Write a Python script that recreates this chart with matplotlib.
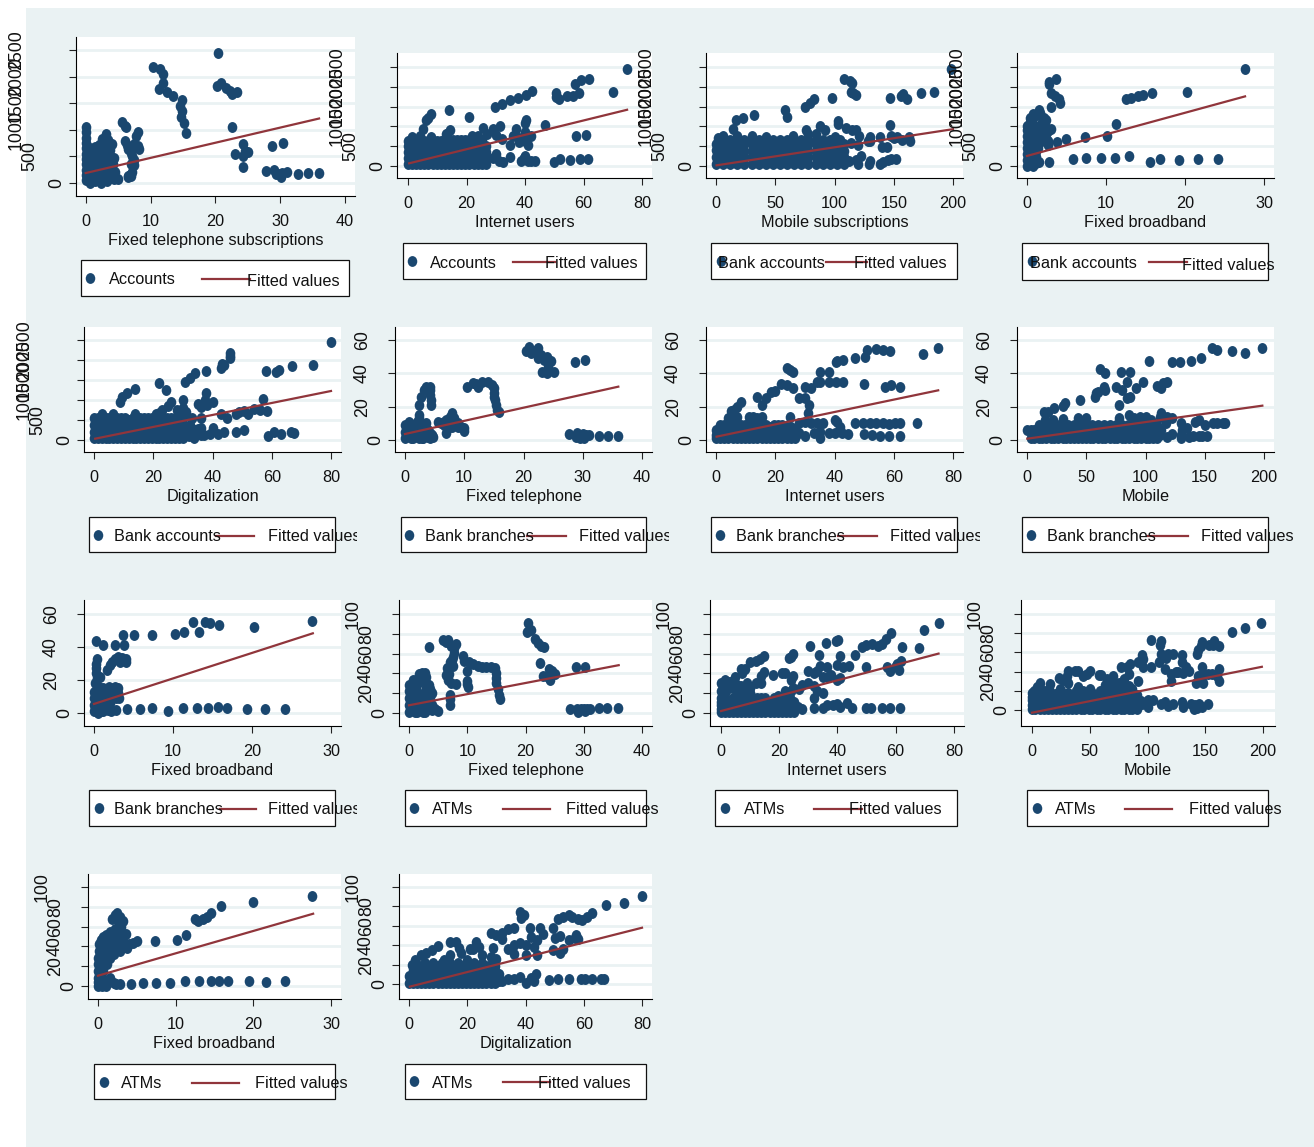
import matplotlib
matplotlib.use('Agg')
import matplotlib.pyplot as plt
from matplotlib.lines import Line2D
from matplotlib.patches import Rectangle
from matplotlib.path import Path
from matplotlib.transforms import Affine2D, Bbox
import numpy as np

W, H = 1314, 1147
NAVY = '#1a476f'
MAROON = '#90353b'
BG = '#eaf2f3'
FONT = 'Liberation Sans'

# points as (x, y)
acc_tel = [(20.4,2437),(10.4,2187),(11.5,2140),(12,2050),(11.9,1875),(11.3,1770),(12.5,1706),(13.5,1644),(14.8,1562),(14.6,1456),(14.9,1344),(14.7,1250),(15.2,1125),(15.5,937),
 (20.3,1831),(20.9,1875),(21.7,1780),(22.3,1720),(22.5,1669),(23.4,1706),(22.5,1050),(24.2,731),(24.5,600),(25,575),(23,544),(24.2,500),(24.3,294),(28.8,687),(30.4,744),
 (27.8,219),(29,240),(29.3,170),(30,170),(30.2,110),(30.3,190),(31,200),(32.7,175),(34.3,187),(36,187),
 (5.6,1156),(6,1080),(6.2,1060),(8,950),(7.8,880),(6,781),(6.3,720),(6.6,640),(7,570),(7.2,500),(7.5,430),(8.2,644),(7.5,740),(7.1,680),(8,690),(7,350),(7.5,330),(6.6,125),(6.5,110),(7,130),(7.2,200),(6.9,150),
 (0,1050),(0,950),(0,850),(0,750),(0,650),(0,550),(0,450),(0,350),(0,250),(0,150),(0,50),
 (0.6,0),(0.6,130),(0.6,260),(0.6,390),(0.6,520),(0.6,650),(1.5,30),(1.5,160),(1.5,290),(1.5,420),(1.5,550),(1.5,680),(2.4,0),(2.4,130),(2.4,260),(2.4,390),(2.4,520),(2.4,650),(2.5,830),
 (3.3,30),(3.3,160),(3.3,290),(3.3,420),(3.3,550),(3.3,680),(3.2,920),(3.5,800),(4.1,730),(4.3,470),(4.2,350),(4.5,200),(5,80),(4.3,80),
 (1,70),(1,200),(1,330),(1,460),(1,590),(2,70),(2,200),(2,330),(2,460),(2,590),(2,720),(2.9,100),(2.9,230),(2.9,360),(2.9,490),(2.9,620),(3.8,100),(3.8,230),(3.8,360),(3.8,500),(3.8,620)]
acc_tel_fit = [(0,187),(36,1212)]

acc_net = [(74.8,2450),(61.8,2197),(59.2,2170),(57,2079),(70,1876),(42.5,1901),(40.2,1800),(37.5,1715),(34.8,1673),(32,1572),(29.8,1479),(50.5,1850),(50.5,1730),(51.5,1690),(54.2,1775),(56.5,1770),(58.5,1842),
 (14,1420),(20.7,1234),(8,1301),(7,1200),(6,1166),(5,938),(14.5,912),(13.5,800),(57.5,760),(61,777),(50,93),(52,177),(55.5,143),(58.7,169),(61.7,170),(46.7,1039),(40.5,1166),(40,1098),(36.8,946),(31.5,1014),(29,930),(25.5,955),
 (27,800),(30,780),(32,680),(35,540),(36,760),(38,700),(40,640),(41,520),(42,760),(40,870),(38,600),(30,304),(29,210),(31,120),(32.5,100),(35,220),(38.5,120),(40,250),(41,120),(42,120),(43.5,130),(39.5,190),
 (0,50),(0,350),(0,620),(1.4,200),(1.4,500),(1.4,720),(2.8,50),(2.8,350),(2.8,620),(4.2,200),(4.2,500),(4.2,760),(5.6,50),(5.6,350),(5.6,620),(7,200),(7,500),(8,720),(8.4,50),(8.4,350),(8.4,620),(9.8,200),(9.8,500),(11.2,50),(11.2,350),(11.2,640),
 (12.6,200),(12.6,500),(13,800),(14,50),(14,350),(14,650),(15.4,200),(15.4,500),(16.8,50),(16.8,350),(16.8,650),(18.2,200),(18.2,500),(19.6,50),(19.6,350),(19.6,650),(21,200),(21,500),(22.4,50),(22.4,350),(22.4,650),(22,750),(24,760),(23.8,200),(23.8,500),(25.2,50),(25.2,350),(25.2,650),(26.6,200),(26.6,500),
 (0,200),(0,500),(2.8,200),(2.8,500),(5.6,200),(5.6,500),(8.4,200),(8.4,500),(11.2,200),(11.2,500),(14,200),(14,500),(16.8,200),(16.8,500),(19.6,200),(19.6,500),(22.4,200),(22.4,500),(25.2,200),(25.2,500),
 (1.4,50),(1.4,350),(1.4,620),(4.2,50),(4.2,350),(4.2,620),(7,50),(7,350),(7,620),(9.8,50),(9.8,350),(9.8,620),(12.6,50),(12.6,350),(12.6,650),(15.4,50),(15.4,350),(15.4,650),(18.2,50),(18.2,350),(18.2,650),(21,50),(21,350),(21,650),(23.8,50),(23.8,350),(23.8,650),(26.6,50),(26.6,350)]
acc_net_fit = [(0.4,68),(74.9,1420)]

acc_mob = [(198,2450),(108,2197),(113,2150),(115,2100),(114,1860),(118,1783),(116,1850),(98,1715),(83,1680),(79,1590),(75,1480),(147,1715),(156,1775),(158,1810),(161,1690),(173,1842),(184,1860),(58,1420),(60,1240),(32,1290),(23,1200),(17,1150),(14,930),
 (88,1020),(92,920),(103,1130),(103,1060),(147,1040),(110,960),(115,920),(118,900),(121,760),(130,720),(138,740),(148,760),(153,720),(157,660),(163,720),(164,620),(150,700),(128,640),(140,480),(144,480),(114,580),(120,520),(130,640),(105,650),
 (130,120),(129,50),(138,50),(141,90),(145,150),(148,170),(152,170),(122,240),(120,50),(118,160),(112,120),
 (0,400),(2,700),(0,50),(6,220),(6,560),(6,760),(12,50),(12,390),(12,650),(18,220),(18,560),(18,760),(24,50),(24,390),(24,650),(30,220),(30,560),(30,760),(36,50),(36,390),(36,650),(42,220),(42,560),(42,740),(48,50),(48,390),(48,650),(54,220),(54,560),(60,50),(60,390),(60,650),
 (66,220),(66,560),(65,760),(72,50),(72,390),(72,650),(76,900),(78,220),(78,560),(78,800),(84,50),(84,390),(84,650),(84,820),(90,220),(90,560),(96,50),(96,390),(96,650),(102,220),(102,560),(108,50),(108,390),(100,730),
 (0,220),(0,560),(12,220),(12,560),(24,220),(24,560),(36,220),(36,560),(48,220),(48,560),(60,220),(60,560),(72,220),(72,560),(84,220),(84,560),(96,220),(96,560),(108,220),(108,560),
 (6,50),(6,390),(6,650),(18,50),(18,390),(18,650),(30,50),(30,390),(30,650),(42,50),(42,390),(42,650),(54,50),(54,390),(54,650),(66,50),(66,390),(66,650),(78,50),(78,390),(78,650),(90,50),(90,390),(90,650),(102,50),(102,390),(102,650)]
acc_mob_fit = [(0.5,17),(200,930)]

acc_bb = [(27.6,2450),(20.2,1860),(15.8,1840),(14.7,1790),(14,1770),(13.2,1720),(12.5,1700),(11.3,1050),(10.1,760),(7.4,720),
 (24.2,170),(21.7,170),(19.3,150),(16.8,170),(15.6,90),(12.9,240),(11.2,210),(9.4,200),(7.5,200),(5.8,170),(2.8,110),(1.5,100),(1,90),
 (4.9,680),(3.8,600),(2.7,620),(2.6,520),(3,930),(2.7,880),(2.3,1000),(2.2,1100),(3.1,1479),(1.5,1420),(4.2,1590),(4,1700),(3.5,1780),(3,1850),(2.8,2130),(3.7,2200),(2.8,2060),
 (0,0),(0,150),(0,300),(0,450),(0,600),(0,750),(0,900),(0,1000),(0.4,70),(0.4,220),(0.4,370),(0.4,520),(0.4,670),(0.4,820),(0.4,970),(0.4,1120),(0.4,1200),(0.8,0),(0.8,150),(0.8,300),(0.8,450),(0.8,600),(0.8,750),(0.8,900),(0.8,1050),(0.8,1250),(0.7,1320),
 (1.2,70),(1.2,220),(1.2,370),(1.2,520),(1.2,670),(1.2,820),(1.2,950),(1.6,600),(1.6,750),(1.6,900),(2,800),(2.4,700),(2.1,1220),(2.4,1150),(1.6,1350),
 (0.2,300),(0.2,600),(0.2,900),(0.6,150),(0.6,450),(0.6,750),(0.6,1050),(1,300),(1,600),(1,900),(1.4,450),(1.4,750),(1.8,1050),(1.3,1280),(2.1,1000),(2.5,900)]
acc_bb_fit = [(0,254),(27.6,1758)]

acc_dig = [(80,2450),(74,1870),(67,1850),(62.5,1760),(61.5,1700),(58,1720),(46,2166),(46,2060),(45.8,2100),(44,1880),(43,1800),(43.2,1900),(37.8,1720),(34,1670),(32.5,1550),(30.8,1450),(22,1420),(24.2,1240),(14,1270),(11,1180),(9.5,1070),(8.8,950),
 (37.8,1170),(37.5,1010),(35,900),(36,820),(40,950),(38,880),(30,1000),(26,940),(28,750),(30,800),(31,700),(25,840),(23,760),(22,680),(43,640),(45,550),(48,640),(49,700),(50.5,720),(52,650),(54,780),(56,750),(57,1020),(58.5,720),
 (58.7,110),(60.7,190),(63.2,140),(66.5,190),(67.5,170),(48,200),(50.5,260),(44,190),(42,160),(39,160),(36,120),(33,150),(30,120),(28,120),(33,550),(36,550),
 (0,50),(0,380),(1.3,200),(1.3,540),(2.6,50),(2.6,380),(2.6,650),(3.9,200),(3.9,540),(5.2,50),(5.2,380),(6.5,200),(6.5,540),(6.5,660),(7.8,50),(7.8,380),(9.1,200),(9.1,540),(10.4,50),(10.4,380),(11.7,200),(11.7,500),(13,50),(13,380),(14.3,200),(14.3,540),(14,650),(15.6,50),(15.6,380),(16.9,200),(16.9,540),(18.2,50),(18.2,380),
 (19.5,200),(19.5,540),(20.8,50),(20.8,380),(20.8,650),(22.1,200),(22.1,540),(23.4,50),(23.4,380),(24.7,200),(24.7,540),(26,50),(26,380),(27.3,200),(27.3,540),(28.6,50),(28.6,380),(29.9,200),(29.9,540),(31.2,280),(32.5,380),(33.8,50),(35,280),(37,130),(40,300),(30,650),
 (0,200),(0,540),(2.6,200),(2.6,540),(5.2,200),(5.2,540),(7.8,200),(7.8,540),(10.4,200),(10.4,540),(13,200),(13,540),(15.6,200),(15.6,540),(18.2,200),(18.2,540),(20.8,200),(20.8,540),(23.4,200),(23.4,540),(26,200),(26,540),(28.6,200),(28.6,540),
 (1.3,50),(1.3,380),(3.9,50),(3.9,380),(6.5,50),(6.5,380),(9.1,50),(9.1,380),(11.7,50),(11.7,380),(14.3,50),(14.3,380),(16.9,50),(16.9,380),(19.5,50),(19.5,380),(22.1,50),(22.1,380),(24.7,50),(24.7,380),(27.3,50),(27.3,380),(29.9,50),(29.9,380),(32,100),(34,250),(36,300)]
acc_dig_fit = [(0.4,33),(80,1225)]

bra_tel = [(20.5,53.5),(20.9,55.5),(21.2,52),(22,53.5),(22.5,55),(23,51),(22.5,49),(23.5,48),(24,50),(24.7,47.5),(24.2,44),(23.2,41),(24,40),(25.2,41),(28.7,47),(30.4,47.8),
 (10.4,32),(11.4,34),(12,33.5),(12.3,31.5),(13,35),(14,35),(14.7,33),(15,31),(15.1,28),(15,26),(15.2,24),(15.3,21),(15.6,18),(15.8,17),
 (27.7,3.4),(28.8,2),(29,4),(29.5,1.5),(30,3.5),(30.2,1.5),(30.5,3),(31,3),(32.7,2.5),(34.3,2.5),(36,2.5),
 (3.2,30),(3.6,32),(4.2,32),(4.3,30),(4.3,27),(4.4,24),(4.4,21),(2.7,26),(2.4,21),(2.3,15),(2.3,13),
 (5.5,11),(6,10),(6.5,11),(7,12),(7.6,14),(8,16),(7,4),(7.3,7),(7.7,9),(8.2,13),(8.5,11),(9,10),(9.5,8),(10,5.5),(10,7),(8,8),(6.5,9),(9,8),
 (0,1),(0,5),(0,9),(0.7,3),(0.7,7),(0.7,11),(1.4,1),(1.4,5),(1.4,9),(2.1,3),(2.1,7),(2.1,11),(2.8,1),(2.8,5),(2.8,9),(3.5,3),(3.5,7),(3.5,10),(4.2,1),(4.2,4),(4.8,2),
 (0.3,3),(0.3,7),(1,1),(1,5),(1,9),(1.7,3),(1.7,7),(2.4,1),(2.4,5),(2.4,9),(3.1,1),(3.1,5),(3.1,9),(3.8,2),(3.8,6),(4.5,3)]
bra_tel_fit = [(0,3.6),(36,32)]

bra_net = [(75,55.2),(70,51.6),(58.7,53.2),(56.5,54),(54,54.5),(51,54),(50.2,49.5),(47,49),(43,48),(40.5,47),(41,47.5),(38,41),(35,41),(24,43),(26,40.5),(25,42),(35,35),(38,35),(40.5,34.5),(43,34.5),(50,33.5),(57,32),(59,33),(62,32),(34,35),
 (30,32),(32,31),(22,33.5),(24,33),(26,31),(20,29.5),(18.5,29),(14,26),(17,25),(15.5,21),(28,25),(30,25),(31.5,21),(31,16),(25,14),(8.3,22.5),(7,20),(6,18),(5,17.5),
 (68,10),(62,10),(60.5,10),(58.5,9.5),(56.5,10.3),(54,10.3),(52,10),(49.5,10.5),(47,10),(44.5,3.5),(42.5,4),(40,4),(38,4),(41,11),(40,12),(42,8),(36,10),(34,10),(62,2.5),(58.5,2.5),(55.5,2.5),(52.5,3),(50,3.5),(35,1.5),(35,5),(33,4),(30,2.5),(32,10),(30,11),(28,10),(28,4),
 (0,1),(0,6),(1.4,3),(1.4,9),(2.8,1),(2.8,6),(4.2,3),(4.2,9),(4,13),(5.6,1),(5.6,6),(7,3),(7,9),(7,14),(8.4,1),(8.4,6),(9.8,3),(9.8,9),(11.2,1),(11.2,6),(12.6,3),(12.6,9),(12.6,14),(14,1),(14,6),(15.4,3),(15.4,9),(15.5,14),(16.8,1),(16.8,6),(18.2,3),(18.2,8),(19.6,1),(19.6,6),(21,3),(21,9),(22.4,1),(22.4,6),(23.8,3),(23.8,8),(25.2,1),(25.2,6),(26.6,3),
 (0,3),(2.8,3),(2.8,9),(5.6,3),(5.6,9),(5.6,13),(8.4,3),(8.4,9),(11.2,3),(11.2,9),(11.2,14),(14,3),(14,9),(14,13),(16.8,3),(16.8,9),(19.6,3),(19.6,9),(22.4,3),(22.4,9),(25.2,3),(25.2,8),
 (1.4,1),(1.4,6),(4.2,1),(4.2,6),(7,1),(7,6),(9.8,1),(9.8,6),(12.6,1),(12.6,6),(15.4,1),(15.4,6),(18.2,1),(18.2,6),(21,1),(21,6),(23.8,1),(23.8,6),(26.6,1),(26.6,6)]
bra_net_fit = [(0.2,2),(75,29.8)]

bra_mob = [(198.6,55),(184,52),(173,53.5),(160,54),(156,55),(147,49),(138,47.5),(129,46.7),(122,46.5),(103,47.5),(62,42.5),(66,40),(79,41),(86.5,41),
 (84,35),(98,35),(118,34.5),(115,34),(110,32.5),(113,31),(92,31),(80,30),(75,32),(65,32),(58,28),(57,26),(60,29),(66,30),(84,25),(87,25.5),(78,21),(45,24),(32,22),(30,20.5),(23,19),(18,17),(14,17),
 (78,13.5),(86,15),(90,13),(95,14),(100,14),(105,12),(112,14),(113,16),(118,14),(122,13),(117,10),(130,10),(130,3),(130,1.5),(142,11),(145,12),(150,9),(157,10),(160,10),(165,10),(167,10),(152,2.5),(148,2.5),(145,2.5),(140,2.5),(137,2),(131,6),(135,7),(122,3.5),(118,2),(112,3),
 (43,13),(50,13.5),(30,12.5),(22,12),(15,12),
 (0,6),(3,1),(6,6),(10,1),(13,6),(16,1),(20,6),(23,1),(26,6),(30,1),(33,6),(36,1),(40,6),(43,1),(46,6),(50,1),(53,6),(56,1),(60,6),(63,1),(66,6),(70,1),(73,6),(76,1),(80,6),(83,1),(86,6),(90,1),(93,6),(96,1),(100,6),(103,1),(106,6),(110,1),(113,6),
 (5,3),(15,3),(25,3),(35,3),(45,3),(55,3),(65,3),(75,3),(85,3),(95,3),(105,3),(10,9),(30,9),(50,9),(70,9),(90,9),(110,9),(20,9),(40,9),(60,9),(80,9),(100,9),
 (6,1),(13,1),(20,1),(26,1),(33,1),(40,1),(46,1),(53,1),(60,1),(66,1),(73,1),(80,1),(86,1),(93,1),(100,1),(106,1),
 (3,6),(10,6),(16,6),(23,6),(30,6),(36,6),(43,6),(50,6),(56,6),(63,6),(70,6),(76,6),(83,6),(90,6),(96,6),(103,6),(110,6),
 (10,3),(20,3),(30,3),(40,3),(50,3),(60,3),(70,3),(80,3),(90,3),(100,3),(110,3),(15,9),(25,9),(35,9),(45,9),(55,9),(65,9),(75,9),(85,9),(95,9),(105,9)]
bra_mob_fit = [(0.3,0.8),(198.6,20.6)]

bra_bb = [(27.6,56),(20.2,52),(15.8,53.5),(14.7,54.5),(14.1,55),(13.3,49),(12.5,55),(11.4,49),(10.3,48),(7.4,47),(5,47.5),(3.7,47.5),(3.8,41),(2.7,41.5),(1.1,41),(0.3,43.5),
 (24.2,2.5),(21.7,2.5),(19.4,2.5),(16.8,3),(15.7,3.7),(14.4,3),(13,3),(11.3,3),(9.4,1.5),(7.4,3),(5.8,2.5),(4.2,2.5),(2.8,2),(2.2,1.5),(1.8,2),
 (4.1,31),(4,33),(3.6,33.5),(3,34),(2.7,33),(2.3,31),(2,29),(1.6,26),(3.3,31),(0.4,33),(0.3,30),(0.2,27),(0.2,24),(0.4,21),(0.1,18),(0.8,22),
 (0,1),(0,5),(0,9),(0,13),(0.6,3),(0.6,7),(0.6,11),(0.6,16),(1.2,1),(1.2,5),(1.2,9),(1.2,15),(1.7,14),(1.7,11),(2.2,13),(2.2,9),(2.7,16),(2.8,9),(3,12),(0.5,0),(1,3),
 (0.3,3),(0.3,7),(0.3,11),(0.9,1),(0.9,5),(0.9,9),(0.9,13),(1.5,3),(1.5,7),(1.5,11),(2,6),(2.5,11),(2.5,15),(3,15),(1.9,16),(3.2,9)]
bra_bb_fit = [(0,5.5),(27.7,48.3)]

atm_tel = [(20.4,91),(20.3,82),(21,84),(21.6,75),(22.2,71),(22.7,68),(23.1,66.5),(22.5,51),(23,37),(24,44),(24.5,42),(25,39),(24.2,33),(23.8,36),(28.6,46),(30.3,46.5),
 (27.7,4),(28.8,4),(29,1),(29.5,4.5),(30,4),(30.2,2),(30.6,4),(31,4),(32.6,5),(34,5),(35.9,5),
 (3.4,67),(5.9,74),(6.3,72),(6.7,74),(7.2,68),(8.1,70),(7.7,66),(7.8,61),(7.6,57),(7.4,54),(9.2,58),(9.5,53),(10.3,52),(10,42),(11,49),(11.8,47),(12.5,46),(13.2,46),(14,46),(14.7,45),(15,40),(15,35),(15,30),(15.3,24),(15.4,18),(15.7,14),
 (6.5,45),(6.3,38),(6.7,33),(7.2,30),(8,29),(7.5,47),(7,52),(6.8,39),(10,32),(10.2,26),(9.9,29),(7,18),(7,14),(7,8),
 (1.7,39),(2.2,40),(2.8,40),(1.2,33),(3,30),(3.5,28),(3.6,24),(3,25),(3,20),(4,20),(3.6,16),
 (0,1),(0,8),(0,15),(0,22),(0.7,4),(0.7,11),(0.7,18),(0.7,26),(1.4,1),(1.4,8),(1.4,15),(1.4,22),(2.1,4),(2.1,11),(2.1,18),(2.8,1),(2.8,8),(2.8,15),(3.5,4),(3.5,11),(4,8),(4,3),(5,2),(4.5,4),
 (0.35,4),(0.35,11),(0.35,18),(1,1),(1,8),(1,15),(1,22),(1.75,4),(1.75,11),(1.75,18),(2.4,1),(2.4,8),(2.4,15),(3.1,4),(3.1,11),(3.8,8),(0,28),(0.7,33),(1.6,30),(2.5,32),(3,36),(3.8,4)]
atm_tel_fit = [(0,7.8),(36,48.3)]

atm_net = [(74.9,91),(69.7,84),(68,66),(62.3,67),(58.5,81),(56.8,75),(55.5,70),(54,68),(52,70),(50,69),(48.5,66.5),(46,59),(40.3,74),(39.5,73),(36.3,71),(30.8,68),(33.8,59),(25,60),(24,57),(23.5,56),(14.8,58),(13.5,55),(12,53),(10,52),(41,58),(42,46),(44,47),(50,46),(40,48),(36.5,46),(34,47),(33,42),(30,42),(32,40),(37,36),(40,33),(41,35),(38,38),(35,36),
 (57,46),(58,42),(60,47),(61,43),(60.5,49),(62,53),(25,37),(24,33),(22,40),(21,40),(18,38),(15,41),(14,37),(7,44),(8.5,44),(7.5,40),(12,30),(14,30),(30,30),(28,28),(32,27),(35,20),(33,22),(32,15),(25,25),(22,22),(27,24),(24,22),
 (61.5,5),(58,5),(55.5,5),(51.5,5),(50,5),(45,5),(43.5,10),(41,6),(40,9),(38.5,8),(36.5,8),(35,5),(32,5),(28,4),(26.5,6),(24,2),
 (0,1),(0,8),(0,15),(0,22),(1.4,4),(1.4,11),(1.4,26),(2.8,1),(2.8,8),(2.8,31),(4.2,4),(4.2,11),(6,22),(5.6,1),(5.6,8),(5.6,15),(7,4),(7,11),(7,27),(8.4,1),(8.4,8),(8.4,15),(9,30),(9.8,4),(9.8,11),(11.2,1),(11.2,8),(11.2,15),(12.6,4),(12.6,11),(14,1),(14,8),(14,15),(15.4,4),(15.4,11),(16.8,1),(16.8,8),(18.2,4),(18.2,11),(19.6,1),(19.6,8),(19.6,17),(21,4),(21,11),(22.4,1),(22.4,8),(22.4,15),(23.8,11),(25.2,1),(25.2,8),
 (0,4),(0,11),(2.8,4),(2.8,11),(5.6,4),(5.6,11),(8.4,4),(8.4,11),(11.2,4),(11.2,11),(14,4),(14,11),(16.8,4),(16.8,11),(19.6,4),(19.6,11),(22.4,4),(22.4,11),(25.2,4),(25.2,11),
 (1.4,1),(1.4,8),(1.4,15),(4.2,1),(4.2,8),(4.2,15),(7,1),(7,8),(7,15),(9.8,1),(9.8,8),(9.8,15),(12.6,1),(12.6,8),(12.6,15),(15.4,1),(15.4,8),(15.4,15),(18.2,1),(18.2,8),(18.2,15),(21,1),(21,8),(21,15),(23.8,1),(23.8,8),(23.8,15),
 (0,30),(1.4,20),(2.8,25),(4.2,25),(4.2,32),(5.6,28),(7,20),(8.4,22),(1.4,33),(5,36),(10,25),(10,20)]
atm_net_fit = [(0.2,2),(74.7,60)]

atm_mob = [(198.5,91),(184,85),(173,81),(162,66.5),(158,72),(157,68),(153,68),(147,71),(146,67),(144,62),(143,58),(147,45),(148,36),(144,35),(142,28),(148,28),(152,37),(156,37),(160,35),(162,30),(162,43),(136,41),(131,39),(126,40),(133,45),(130,50),(130,57),(122,58),(118,58),(116,54),(112,58),(111,68),(112,72),(103,73),(96,53),(95,57),(92,50),(85,48),(84,38),(82,45),(77,45),(96,45),(103,45),(110,50),(115,43),(120,38),(125,40),(120,30),
 (92,30),(80,32),(75,28),(70,35),(65,32),(60,36),(58,36),(50,41),(48,37),(44,35),(40,41),(37,41),(31,41),(30,35),(27,31),(23,33),(31,28),(16,27),(7,28),(6,25),(4,24),(2,20),(0,18),(0,10),(1,14),
 (12,18),(15,22),(20,17),(25,20),(31,18),(40,24),(44,20),(50,22),(52,18),
 (152,6),(147,3),(145,6),(143,2),(141,5),(140,1),(138,6),(130,8),(131,3),(118,4),(122,6),(115,8),(112,6),(105,10),(100,10),(100,3),(95,6),
 (0,1),(3,5),(7,1),(7,12),(10,5),(14,1),(14,12),(17,5),(21,1),(21,12),(24,5),(28,1),(28,12),(31,5),(35,1),(35,12),(38,5),(42,1),(42,12),(45,5),(49,1),(49,12),(52,5),(56,1),(56,12),(59,5),(63,1),(63,12),(63,22),(66,5),(70,1),(70,12),(70,22),(73,5),(77,1),(77,12),(80,5),(80,22),(84,1),(84,12),(87,5),(87,22),(91,1),(91,12),
 (3,9),(10,9),(17,9),(24,9),(31,9),(38,9),(45,9),(52,9),(59,9),(66,9),(73,9),(80,9),(87,9),(94,9),
 (7,16),(14,16),(21,16),(28,16),(35,16),(42,16),(49,16),(56,16),(63,16),(70,16),(77,16),(84,16),(91,16),
 (10,20),(24,22),(38,20),(45,19),(59,20),(66,20),(73,20),(63,26),(70,28),(77,27),(84,25),(0,5),(0,14),(3,12),(3,18),(7,20),
 (3,1),(10,1),(17,1),(24,1),(31,1),(38,1),(45,1),(52,1),(59,1),(66,1),(73,1),(80,1),(87,1),(7,5),(14,5),(21,5),(28,5),(35,5),(42,5),(49,5),(56,5),(63,5),(70,5),(77,5),(84,5),(91,5)]
atm_mob_fit = [(0,-2.8),(199,45)]

atm_bb = [(27.6,91),(20,85),(15.8,81),(14.5,74),(14,70),(13.5,68),(12.9,66),(12.5,68),(11.3,52),(10.2,46),(7.4,45),(5,45),(4.5,43),(4,42),(3.7,38),(2.8,35),
 (2.5,74),(2.2,72),(2,69),(1.8,68),(2.8,70),(3.2,66),(2.7,62),(2.2,58),(1.5,55),(1,52),(0.6,50),(0.4,46),(0.1,42),(0.1,35),(0,28),(0,22),(0,15),(3.6,53),(3.2,50),(2.5,47),(2,42),(1.5,45),(1.8,38),(1,40),(3,45),(1,30),(0.5,30),(0.8,35),(0.6,40),(1.4,35),(0.5,22),(0.3,15),
 (24.1,5),(21.6,4.5),(19.4,5),(16.7,5),(15.6,5.5),(14.5,5),(13,5),(11.2,5),(9.3,3.5),(7.5,3),(5.8,3),(4.2,2),(2.8,2),(2.3,2),(1.5,5),(1,5),(1,0),(0.5,0),(0,0),(0,4),(0,8),(0.5,8),(0.5,3),
 (0.6,15),(0.8,25),(1.2,22),(1.6,28),(2,32),(2.2,36),(2.6,40),(3,38),(2.4,52),(1.8,50),(1.2,47),(2.6,56),(3,60),(1.5,8),(2,3),(0.2,10),(0.2,5)]
atm_bb_fit = [(0,10.4),(27.7,73)]

atm_dig = [(80,91),(73.8,84),(67.5,81),(62.8,73),(61,69),(59.5,66),(58,67),(56,69),(54.8,71),(52.8,69),(51,67),(49.5,58),(52,50),(50,47),(49.5,35),(52,32),(53,36),(55,45),(57,47),(57.5,51),(58,46),
 (38,74),(39.5,71),(38.5,68),(36,58),(34,57),(32,53),(30,51),(28,53),(32,46),(36,40),(38,42),(40,40),(43,38),(41.5,58),(45,58),(46,52),(44,45),(42,48),(40,30),(44,30),(36,31),(34,36),(29,37),(23,43),(21,36),(22,36),(24,38),(17,37),(16,43),(14,43),(10,39),(8,35),(6,32),(4,30),(2,25),(1,20),(0,8),(14,30),(18,32),(25,30),(28,28),(30,26),(12,25),(20,25),
 (67,5),(66,5),(63,5),(60.5,5),(59,5),(55,5),(51,5),(48,4.5),(43.5,10),(43,3),(40,1),(42,6),(38,7),(36,5),(34,5),(32,3),
 (0,1),(1.4,5),(1.4,14),(2.8,1),(2.8,20),(4.2,5),(4.2,14),(5.6,1),(5.6,22),(7,5),(7,14),(8.4,1),(8.4,22),(9.8,5),(9.8,14),(11.2,1),(11.2,22),(12.6,5),(12.6,14),(14,1),(14,22),(15.4,5),(15.4,14),(16.8,1),(16.8,22),(18.2,5),(18.2,14),(19.6,1),(21,5),(21,14),(22.4,1),(22.4,22),(23.8,5),(23.8,14),(25.2,1),(25.2,22),(26.6,5),(26.6,14),(28,1),(28,20),(29.4,5),(29.4,14),
 (1.4,1),(1.4,10),(4.2,1),(4.2,10),(4.2,19),(7,1),(7,10),(7,19),(9.8,1),(9.8,10),(9.8,19),(12.6,1),(12.6,10),(12.6,19),(15.4,1),(15.4,10),(15.4,19),(18.2,1),(18.2,10),(18.2,19),(21,1),(21,10),(21,19),(23.8,1),(23.8,10),(23.8,19),(26.6,1),(26.6,10),(26.6,19),(29.4,1),(29.4,10),(29.4,19),
 (2.8,5),(2.8,10),(2.8,14),(5.6,5),(5.6,10),(5.6,16),(8.4,5),(8.4,10),(8.4,16),(11.2,5),(11.2,10),(11.2,16),(14,5),(14,10),(14,16),(16.8,5),(16.8,10),(16.8,16),(19.6,5),(19.6,10),(19.6,16),(22.4,5),(22.4,10),(22.4,16),(25.2,5),(25.2,10),(25.2,16),(28,5),(28,10),(28,16),(31,3),(31,10)]
atm_dig_fit = [(0.3,-2.7),(80,58)]

y_accounts = [0, 500, 1000, 1500, 2000, 2500]
y_branches = [0, 20, 40, 60]
y_atms = [0, 20, 40, 60, 80, 100]
x_tel = [0, 10, 20, 30, 40]
x_net = [0, 20, 40, 60, 80]
x_mob = [0, 50, 100, 150, 200]
x_bb = [0, 10, 20, 30]

# data, fit, x ticks, y ticks, x title, legend series name
series = [
    (acc_tel, acc_tel_fit, x_tel, y_accounts, 'Fixed telephone subscriptions', 'Accounts'),
    (acc_net, acc_net_fit, x_net, y_accounts, 'Internet users', 'Accounts'),
    (acc_mob, acc_mob_fit, x_mob, y_accounts, 'Mobile subscriptions', 'Bank accounts'),
    (acc_bb, acc_bb_fit, x_bb, y_accounts, 'Fixed broadband', 'Bank accounts'),
    (acc_dig, acc_dig_fit, x_net, y_accounts, 'Digitalization', 'Bank accounts'),
    (bra_tel, bra_tel_fit, x_tel, y_branches, 'Fixed telephone', 'Bank branches'),
    (bra_net, bra_net_fit, x_net, y_branches, 'Internet users', 'Bank branches'),
    (bra_mob, bra_mob_fit, x_mob, y_branches, 'Mobile', 'Bank branches'),
    (bra_bb, bra_bb_fit, x_bb, y_branches, 'Fixed broadband', 'Bank branches'),
    (atm_tel, atm_tel_fit, x_tel, y_atms, 'Fixed telephone', 'ATMs'),
    (atm_net, atm_net_fit, x_net, y_atms, 'Internet users', 'ATMs'),
    (atm_mob, atm_mob_fit, x_mob, y_atms, 'Mobile', 'ATMs'),
    (atm_bb, atm_bb_fit, x_bb, y_atms, 'Fixed broadband', 'ATMs'),
    (atm_dig, atm_dig_fit, x_net, y_atms, 'Digitalization', 'ATMs'),
]

# pixel layout: left, right, top, bottom, px of x=0, px of last x tick, px of y=0, px of top y tick
boxes = [
    (76, 355, 37, 196, 85.7, 345, 183, 50),
    (397, 652, 53, 178, 408, 642, 166, 67),
    (706, 963, 53, 178, 716, 953, 166, 67),
    (1017, 1274, 53, 178, 1027, 1264, 166, 67),
    (84, 341, 327, 452, 94, 331, 440, 340),
    (395, 652, 327, 452, 405, 642, 440, 340),
    (706, 963, 327, 452, 716, 953, 440, 340),
    (1017, 1274, 327, 452, 1027, 1264, 440, 340),
    (84, 341, 600, 726, 94, 331, 713, 614),
    (399, 652, 600, 726, 409, 642, 713, 614),
    (710, 964, 600, 726, 720.5, 954, 713, 614),
    (1021, 1275, 600, 726, 1032, 1263, 710, 614),
    (88, 341, 874, 999, 98, 331, 986, 887),
    (399, 652, 874, 999, 409, 642, 984, 887),
]

# legend layout: box left, right, top, bottom, marker x, marker y, name x, line x0, x1, fitted x, fitted y, clip x
legends = [
    (81, 349, 260, 296, 90, 278, 109, 202, 250, 247, 281, None),
    (403, 646, 243, 279, 412, 261, 430, 513, 555, 545, 263, None),
    (711, 957, 243, 279, 721, 261, 718, 826, 867, 854, 263, None),
    (1022, 1268, 243, 280, 1032, 261, 1030, 1149, 1187, 1182, 265, None),
    (89, 335, 517, 552, 98, 535, 114, 216, 254, 268, 537, 357),
    (401, 646, 517, 552, 409, 535, 425, 527, 566, 579, 537, 669),
    (711, 957, 517, 552, 720, 535, 736, 838, 877, 890, 537, 980),
    (1022, 1268, 517, 552, 1031, 535, 1047, 1148, 1188, 1201, 537, None),
    (89, 335, 790, 826, 99, 808, 114, 220, 256, 268, 810, 357),
    (404.5, 646, 790, 826, 414, 808, 432, 503, 550, 566, 810, None),
    (715.5, 957, 790, 826, 725, 808, 744, 814, 862, 849, 810, None),
    (1027, 1268, 790, 826, 1037, 808, 1055, 1125, 1172, 1189, 810, None),
    (93.5, 335, 1064, 1099, 104, 1082, 121, 192, 239, 255, 1084, None),
    (404.5, 646, 1064, 1099, 414, 1081, 432, 503, 550, 538, 1084, None),
]

dot = Path.unit_circle().transformed(Affine2D().scale(0.88, 1.0))


def fx(px):
    return px / W


def fy(px):
    return 1 - px / H


fig = plt.figure(figsize=(W / 100, H / 100), dpi=100, facecolor='white')
fig.add_artist(Rectangle((fx(26), 0), 1 - fx(26), fy(8), transform=fig.transFigure,
                         facecolor=BG, edgecolor='none', zorder=-5))

for (pts, fit, xticks, yticks, xtitle, name), box in zip(series, boxes):
    left, right, top, bottom, x0, x1, y0, y1 = box
    ax = fig.add_axes([fx(left), fy(bottom), (right - left) / W, (bottom - top) / H])
    xs, ys = np.array(pts).T
    fit_x, fit_y = np.array(fit).T
    ax.scatter(xs, ys, marker=dot, s=62, color=NAVY, linewidths=0, zorder=3, clip_on=False)
    ax.plot(fit_x, fit_y, color=MAROON, lw=1.6, zorder=4)

    xscale = (x1 - x0) / xticks[-1]
    yscale = (y0 - y1) / yticks[-1]
    ax.set_xlim((left - x0) / xscale, (right - x0) / xscale)
    ax.set_ylim((y0 - bottom) / yscale, (y0 - top) / yscale)

    ax.spines['top'].set_visible(False)
    ax.spines['right'].set_visible(False)
    ax.set_axisbelow(True)
    ax.yaxis.grid(True, color=BG, lw=2)
    ax.set_xticks(xticks)
    ax.set_yticks(yticks)
    ax.tick_params(axis='both', length=5, width=0.8, color='#222222')
    ax.set_xticklabels([str(v) for v in xticks], family=FONT, fontsize=11.7, color='#111111')
    ax.set_yticklabels([str(v) for v in yticks], family=FONT, fontsize=12.8,
                       rotation=90, va='center', color='#111111')
    ax.tick_params(axis='x', pad=8)
    for tick, v in zip(ax.yaxis.get_major_ticks(), yticks):
        # wider labels sit further out, as in the stata export
        tick.set_pad((3.5 + 13.5 * (len(str(v)) - 1)) * 0.72)
    ax.set_xlabel(xtitle, family=FONT, fontsize=11.7, color='#111111', labelpad=3)

for (pts, fit, xticks, yticks, xtitle, name), leg in zip(series, legends):
    bl, br, bt, bb, mx, my, nx, l0, l1, tx, ty, clip = leg
    fig.add_artist(Rectangle((fx(bl), fy(bb)), (br - bl) / W, (bb - bt) / H, transform=fig.transFigure,
                             facecolor='white', edgecolor='#111111', lw=0.9, zorder=1))
    fig.add_artist(Line2D([fx(mx)], [fy(my)], marker=dot, markersize=7.8, color=NAVY, mew=0,
                          ls='none', transform=fig.transFigure, zorder=2))
    fig.add_artist(Line2D([fx(l0), fx(l1)], [fy(my + 1), fy(my + 1)], color=MAROON, lw=1.6,
                          transform=fig.transFigure, zorder=2))
    fig.text(fx(nx), fy(my + 2), name, family=FONT, fontsize=11.7, va='center', ha='left', color='#111111')
    t = fig.text(fx(tx), fy(ty), 'Fitted values', family=FONT, fontsize=11.7, va='center', ha='left', color='#111111')
    if clip:
        t.set_clip_box(Bbox([[0, 0], [clip, H]]))
        t.set_clip_on(True)

fig.savefig('out.png', dpi=100)
plt.close()
